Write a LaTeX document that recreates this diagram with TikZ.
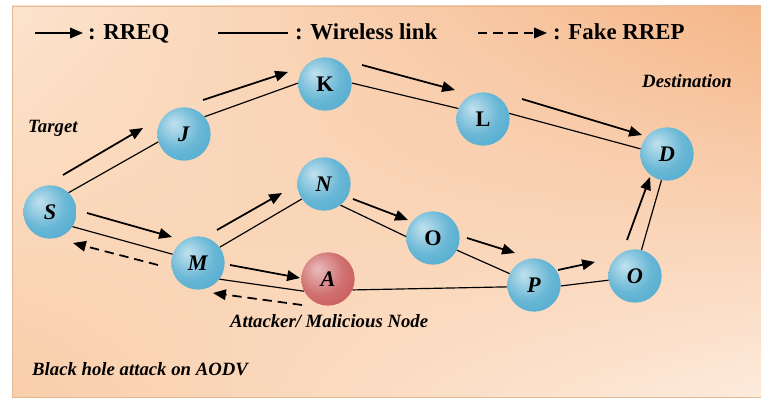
\documentclass[tikz,border=0pt]{standalone}
\usepackage{fontspec}
\setmainfont{Liberation Serif}
\usetikzlibrary{arrows.meta,shadings}
\definecolor{nodeblue}{RGB}{78,170,206}
\definecolor{atkred}{RGB}{200,86,86}
\definecolor{bgUL}{RGB}{252,228,206}
\definecolor{bgUR}{RGB}{245,182,136}
\definecolor{bgLL}{RGB}{249,206,170}
\definecolor{bgLR}{RGB}{253,235,220}
\definecolor{rim}{RGB}{225,185,150}
\pgfdeclareradialshading{blueball}{\pgfpoint{-10bp}{10bp}}{%
  color(0bp)=(nodeblue!35!white); color(22bp)=(nodeblue!85!white);
  color(40bp)=(nodeblue); color(56bp)=(nodeblue!80!black);
  color(70bp)=(nodeblue!55!black)}
\pgfdeclareradialshading{redball}{\pgfpoint{-10bp}{10bp}}{%
  color(0bp)=(atkred!40!white); color(22bp)=(atkred!85!white);
  color(40bp)=(atkred); color(56bp)=(atkred!80!black);
  color(70bp)=(atkred!55!black)}
\begin{document}
\begin{tikzpicture}[x=0.03cm,y=-0.03cm,
  wnode/.style={circle,minimum size=1.6cm,inner sep=0pt,shade,shading=blueball,
    font=\fontsize{19}{22}\selectfont\bfseries},
  anode/.style={wnode,shading=redball},
  link/.style={line width=1pt},
  rreq/.style={line width=1.5pt,-{Triangle[length=11pt,width=9pt]}},
  fake/.style={rreq,dash pattern=on 8pt off 5pt},
  legend/.style={anchor=base west,inner sep=0pt,font=\fontsize{19.5}{22}\selectfont\bfseries},
  note/.style={anchor=base west,inner sep=0pt,font=\fontsize{16}{19}\selectfont\bfseries\itshape}]
  \useasboundingbox (0,0) rectangle (761,400);
  \shade[upper left=bgUL,upper right=bgUR,lower left=bgLL,lower right=bgLR]
    (12,6) rectangle (761,397);
  \draw[rim,line width=0.8pt] (12,6) rectangle (761,397);

  \coordinate (lreq0) at (35,33);
  \coordinate (lreq1) at (83,33);
  \node[legend] (lreq) at (88,40) {: RREQ};
  \draw[rreq] (lreq0) -- (lreq1);
  \coordinate (llink0) at (218,33);
  \coordinate (llink1) at (288,33);
  \node[legend] (llink) at (295,40) {: Wireless link};
  \draw[link] (llink0) -- (llink1);
  \coordinate (lfake0) at (478,33);
  \coordinate (lfake1) at (547,33);
  \node[legend] (lfake) at (553,40) {: Fake RREP};
  \draw[fake] (lfake0) -- (lfake1);

  \node[wnode] (S) at (50,212) {\textit{S}};
  \node[wnode] (J) at (184,134) {\textit{J}};
  \node[wnode] (K) at (325,84) {K};
  \node[wnode] (L) at (483,119) {L};
  \node[wnode] (D) at (667,154) {\textit{D}};
  \node[wnode] (N) at (324,184) {\textit{N}};
  \node[wnode] (O1) at (433,238) {O};
  \node[wnode] (M) at (198,263) {\textit{M}};
  \node[anode] (A) at (328,279) {\textit{A}};
  \node[wnode] (P) at (534,285) {\textit{P}};
  \node[wnode] (O2) at (635,276) {\textit{O}};

  \draw[link] (S.46) -- (J.197);
  \draw[link] (J.40) -- (K.178);
  \draw[link] (K.2) -- (L.157);
  \draw[link] (L.12) -- (D.169);
  \draw[link] (S.-33) -- (M.161);
  \draw[link] (M.36) -- (N.214);
  \draw[link] (N.-52) -- (O1.177);
  \draw[link] (O1.-27) -- (P.155);
  \draw[link] (M.-37) -- (A.207);
  \draw[link] (A.-24) -- (P.184);
  \draw[link] (P.-2) -- (O2.189);
  \draw[link] (O2.76) -- (D.258);

  \draw[rreq] ([shift={(13,-37)}]S.center) -- ([shift={(-41,-6)}]J.center);
  \draw[rreq] ([shift={(19,-34)}]J.center) -- ([shift={(-37,-12)}]K.center);
  \draw[rreq] ([shift={(37,-19)}]K.center) -- ([shift={(-28,-29)}]L.center);
  \draw[rreq] ([shift={(39,-20)}]L.center) -- ([shift={(-25,-19)}]D.center);
  \draw[rreq] ([shift={(37,1)}]S.center) -- ([shift={(-26,-26)}]M.center);
  \draw[rreq] ([shift={(19,-33)}]M.center) -- ([shift={(-42,9)}]N.center);
  \draw[rreq] ([shift={(29,15)}]N.center) -- ([shift={(-25,-18)}]O1.center);
  \draw[rreq] ([shift={(34,0)}]O1.center) -- ([shift={(-19,-32)}]P.center);
  \draw[rreq] ([shift={(24,-15)}]P.center) -- ([shift={(-40,-14)}]O2.center);
  \draw[rreq] ([shift={(-8,-36)}]O2.center) -- ([shift={(-17,23)}]D.center);
  \draw[rreq] ([shift={(32,2)}]M.center) -- ([shift={(-28,-1)}]A.center);
  \draw[fake] ([shift={(-40,2)}]M.center) -- ([shift={(23,31)}]S.center);
  \draw[fake] ([shift={(-26,26)}]A.center) -- ([shift={(15,30)}]M.center);

  \node[note] (tgt) at (28,133) {Target};
  \node[note] (dst) at (642,88) {Destination};
  \node[note] (atk) at (230,327) {Attacker/ Malicious Node};
  \node[note] (ttl) at (32,375) {Black hole attack on AODV};
\end{tikzpicture}
\end{document}
